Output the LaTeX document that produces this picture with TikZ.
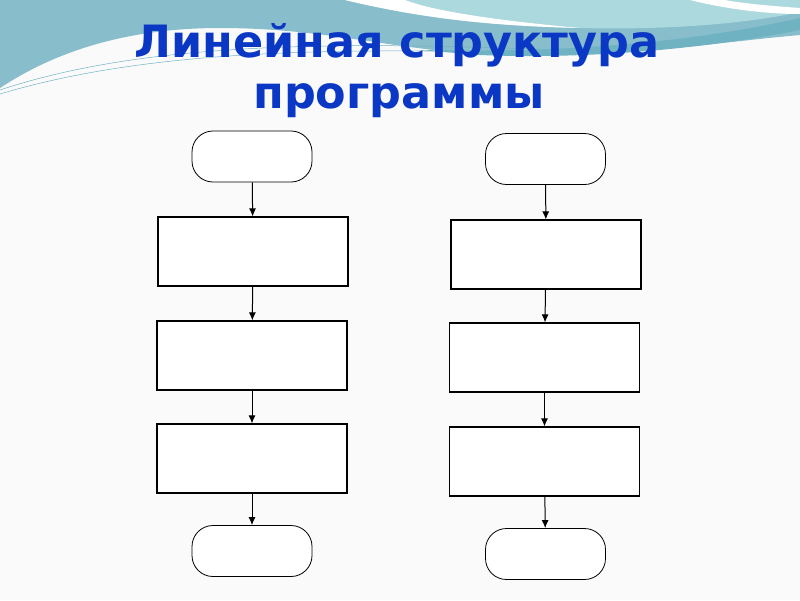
\documentclass[tikz,border=0pt]{standalone}
\usepackage{fontspec}
\setmainfont{DejaVu Sans}
\usetikzlibrary{arrows.meta}

\definecolor{titleblue}{HTML}{0A37C4}
\definecolor{wavedark}{HTML}{88BDCB}
\definecolor{wavelight}{HTML}{ACD9DD}
\definecolor{wavedeep}{HTML}{6FB3C3}
\definecolor{paper}{HTML}{FAFAFA}

\tikzset{
  term/.style={draw, line width=0.8pt, fill=white, minimum width=120pt, minimum height=51pt, rounded corners=21pt, inner sep=0pt},
  block/.style={draw, line width=1.2pt, fill=white, minimum width=190pt, minimum height=69pt, inner sep=0pt},
  flow/.style={-{Latex[length=8pt,width=7pt]}, line width=1pt},
  heading/.style={text=titleblue, font=\bfseries\fontsize{44.5}{54}\selectfont, anchor=base},
}

\begin{document}
\begin{tikzpicture}[x=1pt, y=-1pt]
    \useasboundingbox (0,0) rectangle (800,600);

    % Background
    \fill[paper] (0,0) rectangle (800,600);

    % Waves at the top
    \fill[wavedark] (0,0) -- (800,0) -- (800,35) .. controls (720,42) and (620,58) .. (500,55)
        .. controls (400,52) and (330,28) .. (220,28) .. controls (120,28) and (50,55) .. (0,88) -- cycle;
    \fill[wavedeep] (420,50) .. controls (600,54) and (720,36) .. (800,18) -- (800,30)
        .. controls (720,46) and (600,60) .. (480,55) -- cycle;
    \fill[wavelight] (345,0) .. controls (420,18) and (490,26) .. (580,28)
        .. controls (660,30) and (740,25) .. (800,12) -- (800,0) -- cycle;
    \fill[white] (345,0) .. controls (420,18) and (490,26) .. (580,28)
        .. controls (490,20) and (430,10) .. (405,0) -- cycle;
    \fill[white] (690,0) .. controls (730,10) and (770,14) .. (800,14) -- (800,8)
        .. controls (770,6) and (740,3) .. (725,0) -- cycle;
    \draw[wavedeep, line width=0.5pt] (0,90) .. controls (150,40) and (350,42) .. (560,50);
    \draw[wavedeep, line width=0.5pt] (0,94) .. controls (160,46) and (360,48) .. (580,54);

    % Title
    \node[heading] (title1) at (397,57) {Линейная структура};
    \node[heading] (title2) at (399,108) {программы};

    % Left chart
    \node[term]  (lstart) at (252,156.5) {};
    \node[block] (lbox1)  at (253,251.5) {};
    \node[block] (lbox2)  at (252,355.5) {};
    \node[block] (lbox3)  at (252,458.5) {};
    \node[term]  (lend)   at (252,551)   {};

    \draw[flow] (lstart) -- (lbox1);
    \draw[flow] (lbox1) -- (lbox2);
    \draw[flow] (lbox2) -- (lbox3);
    \draw[flow] (lbox3) -- (lend);

    % Right chart
    \node[term]  (rstart) at (545.5,159)   {};
    \node[block] (rbox1)  at (546,254.5)   {};
    \node[block] (rbox2)  at (544.5,357.5) {};
    \node[block] (rbox3)  at (544.5,461.5) {};
    \node[term]  (rend)   at (545.5,554)   {};

    \draw[flow] (rstart) -- (rbox1);
    \draw[flow] (rbox1) -- (rbox2);
    \draw[flow] (rbox2) -- (rbox3);
    \draw[flow] (rbox3) -- (rend);
\end{tikzpicture}
\end{document}
